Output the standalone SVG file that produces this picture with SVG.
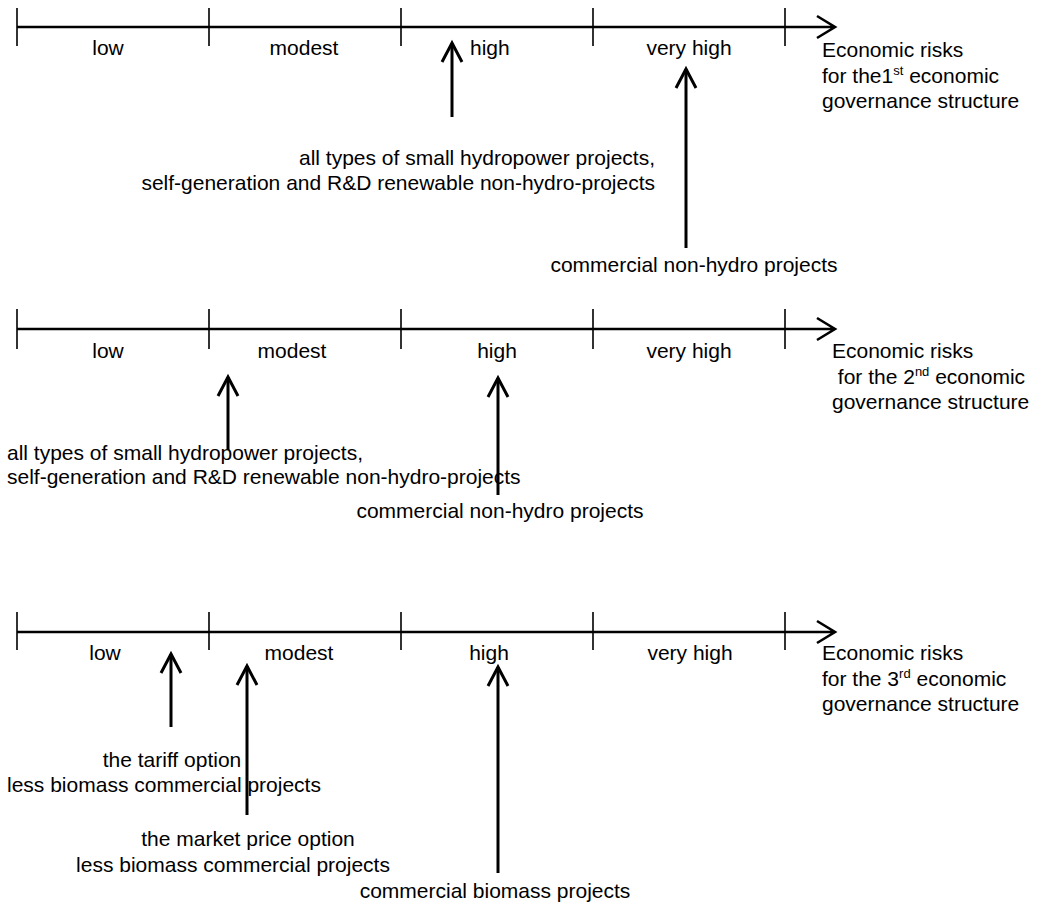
<svg xmlns="http://www.w3.org/2000/svg" width="1049" height="903" viewBox="0 0 1049 903">
<style>
text{font-family:"Liberation Sans",Arial,sans-serif;font-size:21px;fill:#000}
.axis{stroke:#000;stroke-width:2.6;fill:none}
.tick{stroke:#000;stroke-width:1.6;fill:none}
.arr{stroke:#000;stroke-width:3;fill:none}
.head{stroke:#000;stroke-width:3;fill:none;stroke-linejoin:miter}
.m{text-anchor:middle}
.e{text-anchor:end}
.sup{font-size:13px}
</style>
<rect width="1049" height="903" fill="#fff"/>

<g id="scale1">
<path class="axis" d="M17 27H833M817 16L835 27L817 38"/>
<path class="tick" d="M17 8V46M209 8V46M401 8V46M593 8V46M785 8V46"/>
<text x="108" y="55" class="m">low</text>
<text x="304" y="55" class="m">modest</text>
<text x="470" y="55">high</text>
<text x="689" y="55" class="m">very high</text>
</g>
<g id="title1"><text x="822" y="57">Economic risks</text><text x="822" y="83">for the1<tspan class="sup" dy="-8">st</tspan><tspan dy="8"> economic</tspan></text><text x="822" y="108">governance structure</text></g>
<g id="r1a"><text x="655" y="165" class="e">all types of small hydropower projects,</text><text x="655" y="190" class="e">self-generation and R&amp;D renewable non-hydro-projects</text></g>
<g id="r1b"><text x="694" y="272" class="m">commercial non-hydro projects</text></g>

<g id="scale2">
<path class="axis" d="M17 329H833M817 318L835 329L817 340"/>
<path class="tick" d="M17 309V349M209 309V349M401 309V349M593 309V349M785 309V349"/>
<text x="108" y="358" class="m">low</text>
<text x="292" y="358" class="m">modest</text>
<text x="497" y="358" class="m">high</text>
<text x="689" y="358" class="m">very high</text>
</g>
<g id="title2"><text x="832" y="358">Economic risks</text><text x="832" y="384" xml:space="preserve"> for the 2<tspan class="sup" dy="-8">nd</tspan><tspan dy="8"> economic</tspan></text><text x="832" y="409">governance structure</text></g>
<g id="r2a"><text x="7" y="460">all types of small hydropower projects,</text><text x="7" y="484">self-generation and R&amp;D renewable non-hydro-projects</text></g>
<g id="r2b"><text x="500" y="518" class="m">commercial non-hydro projects</text></g>

<g id="scale3">
<path class="axis" d="M17 632H833M817 621L835 632L817 643"/>
<path class="tick" d="M17 612V650M209 612V650M401 612V650M593 612V650M785 612V650"/>
<text x="105" y="660" class="m">low</text>
<text x="299" y="660" class="m">modest</text>
<text x="489" y="660" class="m">high</text>
<text x="690" y="660" class="m">very high</text>
</g>
<g id="title3"><text x="822" y="660">Economic risks</text><text x="822" y="686">for the 3<tspan class="sup" dy="-8">rd</tspan><tspan dy="8"> economic</tspan></text><text x="822" y="711">governance structure</text></g>
<g id="r3a"><text x="172" y="767" class="m">the tariff option</text><text x="7" y="792">less biomass commercial projects</text></g>
<g id="r3b"><text x="248" y="846" class="m">the market price option</text><text x="233" y="872" class="m">less biomass commercial projects</text></g>
<g id="r3c"><text x="495" y="898" class="m">commercial biomass projects</text></g>

<g id="connectors">
<path class="arr" d="M452 117V43"/><path class="head" d="M442 62L452 43L462 62"/>
<path class="arr" d="M686 248V69"/><path class="head" d="M676 88L686 69L696 88"/>
<path class="arr" d="M228 450V377"/><path class="head" d="M218 396L228 377L238 396"/>
<path class="arr" d="M498 495V378"/><path class="head" d="M488 397L498 378L508 397"/>
<path class="arr" d="M171 727V654"/><path class="head" d="M161 673L171 654L181 673"/>
<path class="arr" d="M247 815V666"/><path class="head" d="M237 685L247 666L257 685"/>
<path class="arr" d="M498 873V667"/><path class="head" d="M488 686L498 667L508 686"/>
</g>
</svg>
